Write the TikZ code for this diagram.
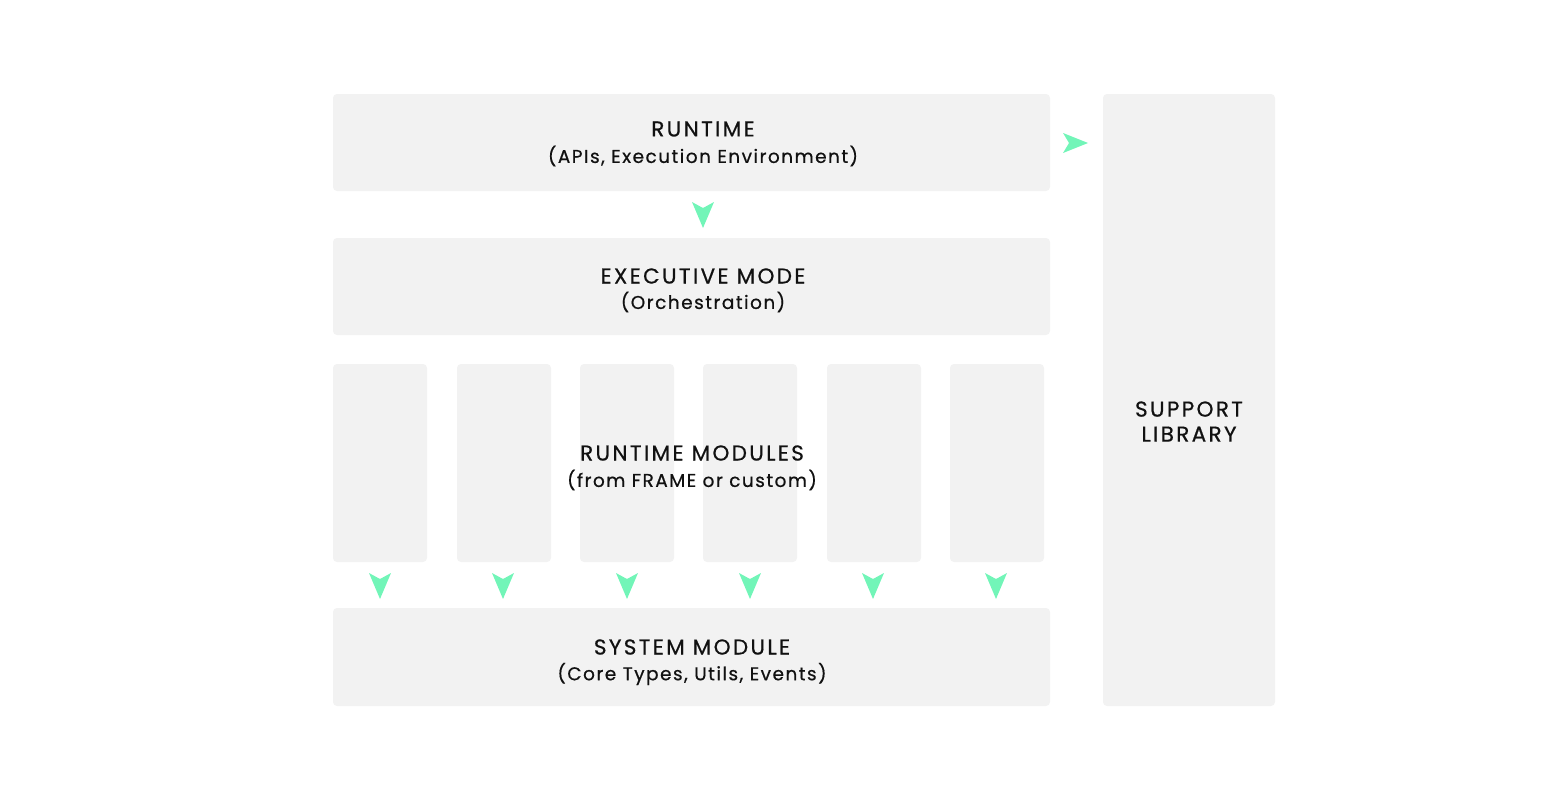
\documentclass[tikz,border=0pt]{standalone}
\usepackage{fontspec}
\setmainfont{Poppins}[LetterSpace=8,FakeBold=0.6]
\definecolor{boxgray}{HTML}{F2F2F2}
\definecolor{mint}{HTML}{72F5B8}
\definecolor{txt}{HTML}{111111}
\begin{document}
\begin{tikzpicture}[x=1pt,y=-1pt,
  blk/.style={fill=boxgray,rounded corners=4pt,draw=none},
  ttl/.style={font=\fontsize{21.5}{25}\selectfont\addfontfeature{LetterSpace=11},text=txt,align=center},
  sub/.style={font=\fontsize{18.5}{22}\selectfont,text=txt,align=center},
  down/.pic={\fill[mint] (-11,0) -- (0,6) -- (11,0) -- (0,26) -- cycle;},
  right/.pic={\fill[mint] (0,-10) -- (6,0) -- (0,10) -- (25,0) -- cycle;}]
\useasboundingbox (0,0) rectangle (1552,804);
% boxes
\fill[blk] (333,94) rectangle (1050,191);
\fill[blk] (333,238) rectangle (1050,335);
\fill[blk] (333,608) rectangle (1050,706);
\fill[blk] (1103,94) rectangle (1275,706);
\foreach \x in {333,457,580,703,827,950}
  \fill[blk] (\x,364) rectangle ++(94,198);
% arrows
\pic at (1063,143) {right};
\pic at (703,202) {down};
\foreach \x in {380,503,627,750,873,996}
  \pic at (\x,573) {down};
% texts
\node[ttl] (rt) at (703,129) {RUNTIME};
\node[sub] (rts) at (703,156) {(APIs, Execution Environment)};
\node[ttl] (ex) at (703,276) {EXECUTIVE MODE};
\node[sub] (exs) at (703,302) {(Orchestration)};
\node[ttl] (rm) at (692,453) {RUNTIME MODULES};
\node[sub] (rms) at (692,480) {(from FRAME or custom)};
\node[ttl] (sm) at (692,647) {SYSTEM MODULE};
\node[sub] (sms) at (692,674) {(Core Types, Utils, Events)};
\node[ttl] (sl) at (1189,421.5) {SUPPORT\\[0pt]LIBRARY};
\end{tikzpicture}
\end{document}
